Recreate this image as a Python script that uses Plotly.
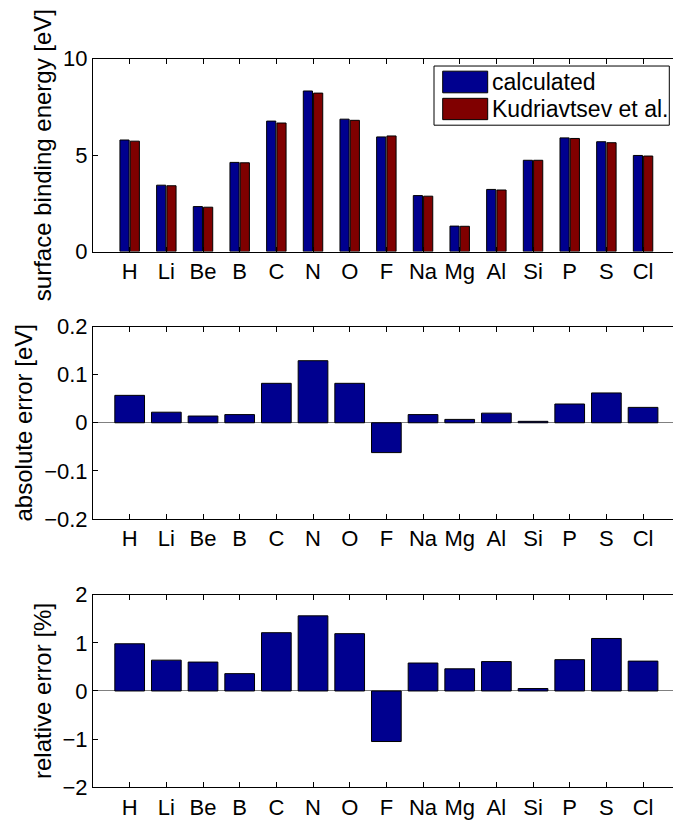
import plotly.graph_objects as go

W, H = 673, 832

elements = ["H", "Li", "Be", "B", "C", "N", "O", "F", "Na", "Mg", "Al", "Si", "P", "S", "Cl"]
calculated = [5.78, 3.44, 2.33, 4.62, 6.76, 8.32, 6.86, 5.94, 2.90, 1.32, 3.22, 4.73, 5.89, 5.69, 4.98]
kudriavtsev = [5.72, 3.41, 2.30, 4.60, 6.66, 8.21, 6.80, 5.99, 2.87, 1.31, 3.19, 4.73, 5.86, 5.64, 4.95]
abs_error = [0.057, 0.022, 0.014, 0.017, 0.082, 0.129, 0.082, -0.062, 0.017, 0.007, 0.020, 0.003, 0.039, 0.062, 0.032]
rel_error = [0.98, 0.64, 0.60, 0.36, 1.21, 1.56, 1.19, -1.05, 0.58, 0.46, 0.61, 0.05, 0.65, 1.09, 0.62]
series_names = ["calculated", "Kudriavtsev et al."]
ytitles = ["surface binding energy [eV]", "absolute error [eV]", "relative error [%]"]

BLUE = "#00008F"
RED = "#800000"
FONT = "Liberation Sans"
FS = 22
FS_TITLE = 24
FS_LEG = 23

xpos = list(range(1, len(elements) + 1))

def px_x(x):
    return x / W

def px_y(y):
    return 1 - y / H

fig = go.Figure()

fig.add_trace(go.Bar(x=xpos, y=calculated, name=series_names[0], width=0.25, offset=-0.265,
                     marker=dict(color=BLUE, line=dict(color="black", width=1)),
                     xaxis="x", yaxis="y", showlegend=False))
fig.add_trace(go.Bar(x=xpos, y=kudriavtsev, name=series_names[1], width=0.25, offset=0.015,
                     marker=dict(color=RED, line=dict(color="black", width=1)),
                     xaxis="x", yaxis="y", showlegend=False))
fig.add_trace(go.Bar(x=xpos, y=abs_error, width=0.81,
                     marker=dict(color=BLUE, line=dict(color="black", width=1)),
                     xaxis="x2", yaxis="y2", showlegend=False))
fig.add_trace(go.Bar(x=xpos, y=rel_error, width=0.81,
                     marker=dict(color=BLUE, line=dict(color="black", width=1)),
                     xaxis="x3", yaxis="y3", showlegend=False))

xdom = [px_x(93), 1.0]
xrange_ = [0, (W - 93) / 36.67]

common_x = dict(domain=xdom, range=xrange_, tickmode="array", tickvals=xpos, ticktext=elements,
                ticks="inside", ticklen=5, tickcolor="black", showline=True, linecolor="black",
                linewidth=1, mirror="ticks", showgrid=False, zeroline=False,
                tickfont=dict(family=FONT, size=FS, color="black"), fixedrange=True)

common_y = dict(ticks="inside", ticklen=5, tickcolor="black", showline=True, linecolor="black",
                linewidth=1, mirror=False, showgrid=False,
                tickfont=dict(family=FONT, size=FS, color="black"))

panels = [
    (48, 247, [0, 10], 5, False),
    (324.3, 522.7, [-0.2, 0.2], 0.1, True),
    (600.7, 799.3, [-2, 2], 1, True),
]

layout = dict(width=W, height=H, margin=dict(l=0, r=0, t=0, b=0),
              paper_bgcolor="white", plot_bgcolor="white", barmode="overlay",
              font=dict(family=FONT, size=FS, color="black"))

for i, (top, bot, rng, dt, zl) in enumerate(panels):
    sx = "" if i == 0 else str(i + 1)
    layout["xaxis" + sx] = dict(common_x, anchor="y" + sx)
    layout["yaxis" + sx] = dict(common_y, domain=[px_y(bot), px_y(top)], range=rng, dtick=dt,
                                tick0=0, anchor="x" + sx, zeroline=zl, zerolinecolor="#808080",
                                zerolinewidth=1,
                                title=dict(text=ytitles[i], font=dict(family=FONT, size=FS_TITLE),
                                           standoff=4))

fig.update_layout(**layout)

# Legend box (MATLAB-style with large patches)
shapes = [
    dict(type="rect", xref="paper", yref="paper", x0=px_x(434), x1=px_x(669.3),
         y0=px_y(116.7), y1=px_y(55.7), line=dict(color="black", width=1), fillcolor="white", layer="above"),
    dict(type="rect", xref="paper", yref="paper", x0=px_x(442.7), x1=px_x(487.7),
         y0=px_y(83.3), y1=px_y(61), line=dict(color="black", width=1), fillcolor=BLUE, layer="above"),
    dict(type="rect", xref="paper", yref="paper", x0=px_x(442.7), x1=px_x(487.7),
         y0=px_y(111), y1=px_y(89), line=dict(color="black", width=1), fillcolor=RED, layer="above"),
]
annotations = [
    dict(xref="paper", yref="paper", x=px_x(490), y=px_y(72.2), text=series_names[0], showarrow=False,
         xanchor="left", yanchor="middle", font=dict(family=FONT, size=FS_LEG, color="black")),
    dict(xref="paper", yref="paper", x=px_x(490), y=px_y(100), text=series_names[1], showarrow=False,
         xanchor="left", yanchor="middle", font=dict(family=FONT, size=FS_LEG, color="black")),
]
fig.update_layout(shapes=shapes, annotations=annotations)

fig.write_html("out.html")
